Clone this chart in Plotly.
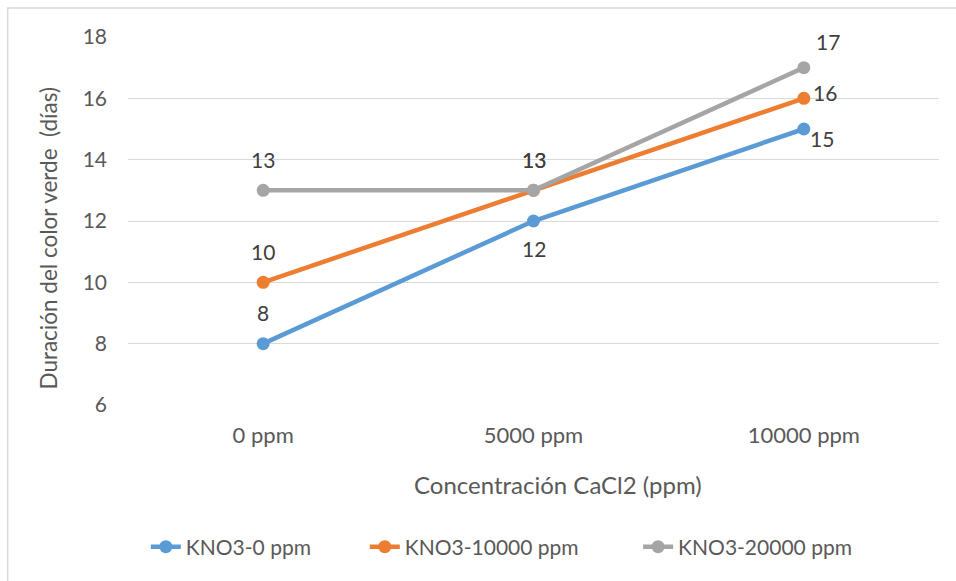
import plotly.graph_objects as go

categories = ["0 ppm", "5000 ppm", "10000 ppm"]
series_names = ["KNO3-0 ppm", "KNO3-10000 ppm", "KNO3-20000 ppm"]
kno3_0 = [8, 12, 15]
kno3_10000 = [10, 13, 16]
kno3_20000 = [13, 13, 17]
colors = ["#5B9BD5", "#ED7D31", "#A5A5A5"]
x_title = "Concentración CaCl2 (ppm)"
y_title = "Duración del color verde  (días)"

# label offsets (px) per point: (xshift, yshift)
label_offsets = [
    [(0, 31), (0, -27), (18, -9)],
    [(0, 31), (0, 31), (21, 6)],
    [(0, 31), (0, 31), (24, 26)],
]
legend_x = [0.022, 0.292, 0.629]

FONT = "Lato"
GREY = "#595959"
fig = go.Figure()
all_series = [kno3_0, kno3_10000, kno3_20000]
legend_ids = ["legend", "legend2", "legend3"]
for name, vals, col, lid in zip(series_names, all_series, colors, legend_ids):
    fig.add_trace(go.Scatter(
        x=categories, y=vals, name=name, mode="lines+markers",
        line=dict(color=col, width=4.5),
        marker=dict(color=col, size=13),
        legend=lid,
    ))

annotations = []
for vals, offs in zip(all_series, label_offsets):
    for cat, v, (dx, dy) in zip(categories, vals, offs):
        annotations.append(dict(
            x=cat, y=v, xref="x", yref="y", text=str(v), showarrow=False,
            xshift=dx, yshift=dy, font=dict(family=FONT, size=21, color="#404040"),
        ))
annotations.append(dict(
    x=0.530, y=-0.2147, xref="paper", yref="paper", text=x_title, showarrow=False,
    xanchor="center", yanchor="middle", font=dict(family=FONT, size=24, color=GREY)))
annotations.append(dict(
    x=-0.098, y=0.451, xref="paper", yref="paper", text=y_title, showarrow=False,
    textangle=-90, xanchor="center", yanchor="middle",
    font=dict(family=FONT, size=22.5, color=GREY)))

legend_common = dict(orientation="h", y=-0.386, yanchor="middle", xanchor="left",
                     font=dict(family=FONT, size=21, color=GREY),
                     bgcolor="rgba(0,0,0,0)")
layout_legends = {}
for lid, lx in zip(legend_ids, legend_x):
    layout_legends[lid] = dict(legend_common, x=lx)

fig.update_layout(
    width=956, height=581,
    margin=dict(l=127.5, r=16.5, t=37, b=176),
    paper_bgcolor="white", plot_bgcolor="white",
    font=dict(family=FONT, color=GREY),
    showlegend=True,
    annotations=annotations,
    xaxis=dict(
        type="category", range=[-0.5, 2.5], showgrid=False, showline=False,
        ticks="", tickfont=dict(family=FONT, size=22, color=GREY),
        ticklabelstandoff=15,
    ),
    yaxis=dict(
        range=[6, 18], dtick=2, showgrid=True, gridcolor="#D9D9D9", gridwidth=1.3,
        zeroline=False, showline=False, ticks="",
        tickfont=dict(family=FONT, size=21, color=GREY),
        ticklabelstandoff=20,
    ),
    shapes=[dict(type="rect", xref="paper", yref="paper",
                 x0=-0.1484, x1=1.03, y0=-0.51, y1=1.0788,
                 line=dict(color="#D9D9D9", width=1.5), fillcolor="rgba(0,0,0,0)",
                 layer="below")],
    **layout_legends,
)

fig.write_html("out.html")
